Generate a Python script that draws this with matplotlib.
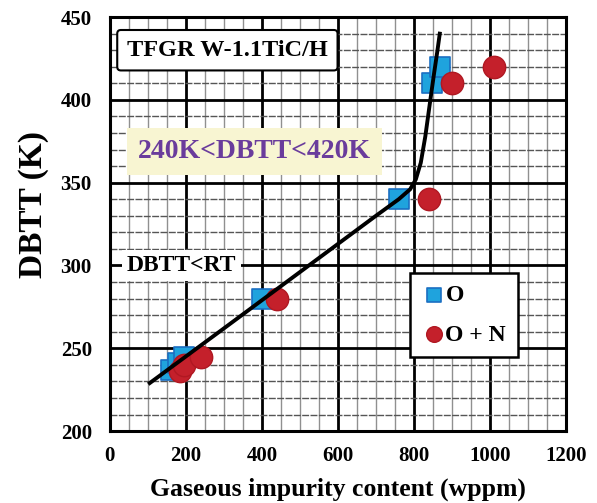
import matplotlib.pyplot as plt
from matplotlib.ticker import MultipleLocator

# data
o_x = [160, 178, 195, 400, 760, 848, 868]
o_y = [237, 241, 245, 280, 340, 410, 420]
on_x = [185, 195, 240, 440, 840, 900, 1010]
on_y = [236, 240, 245, 280, 340, 410, 420]

fit_x = [105, 300, 500, 700, 760, 790, 805, 818, 830, 842, 853, 862, 868]
fit_y = [229, 262, 296, 330, 340, 346, 352, 362, 378, 398, 416, 430, 440]

xticks = [0, 200, 400, 600, 800, 1000, 1200]
yticks = [200, 250, 300, 350, 400, 450]

plt.rcParams['font.family'] = ['Liberation Serif', 'DejaVu Serif']
plt.rcParams['font.weight'] = 'bold'

fig = plt.figure(figsize=(5.97, 5.03), dpi=100)
ax = fig.add_axes([0.184, 0.143, 0.764, 0.823])

ax.set_xlim(0, 1200)
ax.set_ylim(200, 450)
ax.set_xticks(xticks)
ax.set_yticks(yticks)
ax.xaxis.set_minor_locator(MultipleLocator(50))
ax.yaxis.set_minor_locator(MultipleLocator(10))

#grid
ax.grid(which='minor', axis='x', color='#909090', lw=1.0)
ax.grid(which='minor', axis='y', color='#555555', lw=1.0, ls=(0, (5, 1)))
ax.grid(which='major', color='black', lw=2.0)
ax.set_axisbelow(True)

for s in ax.spines.values():
    s.set_linewidth(2.2)
ax.tick_params(which='both', length=0, labelsize=15)
ax.tick_params(axis='y', pad=13)
ax.tick_params(axis='x', pad=11)
for lab in ax.get_xticklabels() + ax.get_yticklabels():
    lab.set_fontweight('bold')

ax.plot(fit_x, fit_y, color='black', lw=2.8, zorder=4)

ax.scatter(o_x, o_y, marker='s', s=210, color='#1fa3dd', edgecolor='#1b6fc2',
           lw=1.2, zorder=3, label='O')
ax.scatter(on_x, on_y, marker='o', s=260, color='#c4202b', edgecolor='#b01822',
           lw=1.0, zorder=3, label='O + N')

ax.set_xlabel('Gaseous impurity content (wppm)', fontsize=18.5, fontweight='bold')
ax.xaxis.set_label_coords(0.5, -0.113)
ax.set_ylabel('DBTT (K)', fontsize=24, fontweight='bold')
ax.yaxis.set_label_coords(-0.134, 0.548)

ax.text(45, 430, 'TFGR W-1.1TiC/H', fontsize=17.5, fontweight='bold', va='center',
        bbox=dict(boxstyle='round,pad=0.4,rounding_size=0.15', fc='white', ec='black', lw=1.5),
        zorder=6)
ax.text(74, 369, '240K<DBTT<420K', fontsize=20, fontweight='bold', color='#6a3c9c',
        va='center', bbox=dict(boxstyle='square,pad=0.4', fc='#f8f5d2', ec='none'), zorder=6)
ax.text(45, 300, 'DBTT<RT', fontsize=17, fontweight='bold', va='center',
        bbox=dict(boxstyle='square,pad=0.2', fc='white', ec='none'), zorder=6)

leg = ax.legend(loc='upper left', bbox_to_anchor=(0.658, 0.382), fontsize=17,
                frameon=True, fancybox=False, handletextpad=0.0, handlelength=1.0,
                borderpad=0.5, labelspacing=0.75, markerscale=0.7, borderaxespad=0)
leg.get_frame().set_edgecolor('black')
leg.get_frame().set_linewidth(1.8)
leg.get_frame().set_alpha(1)
leg.set_zorder(7)

fig.savefig('out.png', dpi=100)
